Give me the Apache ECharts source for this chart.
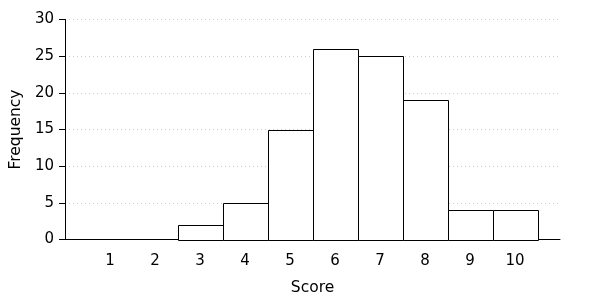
<!DOCTYPE html>
<html><head><meta charset="utf-8">
<script src="https://cdn.jsdelivr.net/npm/echarts@6/dist/echarts.min.js"></script>
<style>html,body{margin:0;padding:0;background:#fff}#c{width:600px;height:300px}</style>
</head><body><div id="c"></div>
<script>
const scores = [1,2,3,4,5,6,7,8,9,10];
const freq = [0,0,2,5,15,26,25,19,4,4];
const yTicks = [0,5,10,15,20,25,30];

const chart = echarts.init(document.getElementById('c'), null, {renderer:'canvas'});
const font = 'DejaVu Sans';
chart.setOption({
  animation:false,
  grid:{left:65,right:40,top:19.5,bottom:60.5,containLabel:false,outerBoundsMode:'none'},
  xAxis:{type:'value',min:0,max:11,interval:1,
    name:'Score',nameLocation:'middle',nameGap:40,
    nameTextStyle:{fontFamily:font,fontSize:15.5,color:'#000'},
    axisLine:{show:true,lineStyle:{color:'#000',width:1}},
    axisTick:{show:false},
    splitLine:{show:false},
    axisLabel:{fontFamily:font,fontSize:15,color:'#000',margin:14,
      formatter:v=>scores.indexOf(v)>=0?String(v):''}
  },
  yAxis:{type:'value',min:yTicks[0],max:yTicks[yTicks.length-1],interval:5,
    name:'Frequency',nameLocation:'middle',nameGap:40,
    nameTextStyle:{fontFamily:font,fontSize:15.5,color:'#000'},
    axisLine:{show:true,lineStyle:{color:'#000',width:1}},
    axisTick:{show:true,length:6,lineStyle:{color:'#000'}},
    splitLine:{show:true,lineStyle:{color:'#ccc',type:[1,3],width:1}},
    axisLabel:{fontFamily:font,fontSize:15,color:'#000',margin:11}
  },
  series:[{type:'custom',
    data:scores.map((s,i)=>[s,freq[i]]),
    renderItem:function(params, api){
      const x = api.value(0), y = api.value(1);
      if (!y) return null;
      const p0 = api.coord([x-0.5, y]);
      const p1 = api.coord([x+0.5, 0]);
      return {type:'rect',
        shape:{x:Math.round(p0[0])+0.5, y:Math.round(p0[1])+0.5,
               width:Math.round(p1[0])-Math.round(p0[0]), height:Math.round(p1[1])-Math.round(p0[1])},
        style:{fill:'#fff',stroke:'#000',lineWidth:1}};
    }
  }]
});
</script></body></html>
